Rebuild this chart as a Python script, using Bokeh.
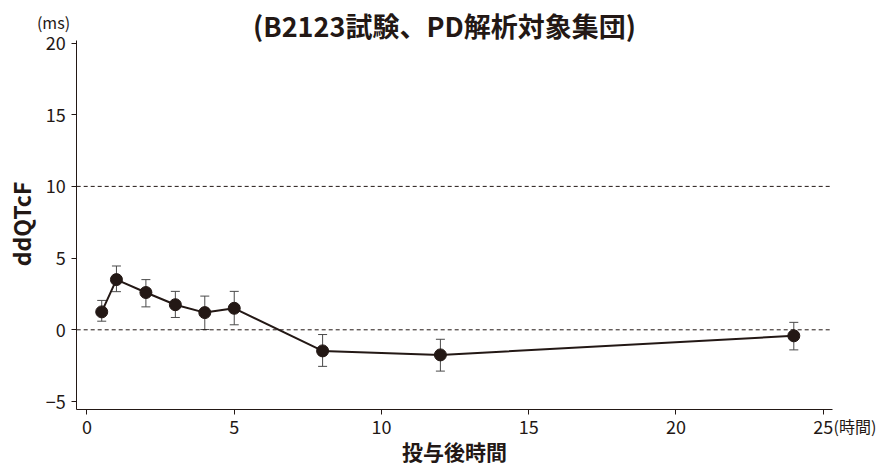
from bokeh.plotting import figure
from bokeh.models import (ColumnDataSource, Range1d, FixedTicker, Label,
                          LinearAxis, Whisker, TeeHead)
from bokeh.embed import file_html
from bokeh.resources import INLINE
import math

# ---- data ----
hours = [0.5, 1, 2, 3, 4, 5, 8, 12, 24]
ddqtcf = [1.25, 3.5, 2.6, 1.75, 1.2, 1.5, -1.47, -1.75, -0.42]
err_upper = [2.05, 4.45, 3.5, 2.68, 2.35, 2.68, -0.33, -0.66, 0.52]
err_lower = [0.6, 2.66, 1.6, 0.86, 0.02, 0.35, -2.55, -2.88, -1.4]
x_ticks = [0, 5, 10, 15, 20, 25]
y_ticks = [-5, 0, 5, 10, 15, 20]
ref_lines = [0, 10]
title_text = "(B2123試験、PD解析対象集団)"
x_label = "投与後時間"
x_unit = "(時間)"
y_label = "ddQTcF"
y_unit = "(ms)"

# axis extents (data units) and the view of the whole canvas
x_axis_bounds = (-0.35, 25.31)
y_axis_bounds = (-5.58, 20.17)
x_view = (-2.937, 26.944)
y_view = (-9.672, 22.964)

INK = "#231815"
FONT = "Noto Sans CJK JP"

src = ColumnDataSource(dict(x=hours, y=ddqtcf, upper=err_upper, lower=err_lower))
ref_src = ColumnDataSource(dict(
    x0=[x_axis_bounds[0]] * len(ref_lines),
    x1=[x_axis_bounds[1]] * len(ref_lines),
    y=ref_lines))

W, H = 880, 468
p = figure(width=W, height=H, output_backend="svg", toolbar_location=None,
           x_range=Range1d(*x_view), y_range=Range1d(*y_view),
           x_axis_location=None, y_axis_location=None,
           min_border=0)
p.outline_line_color = None
p.grid.visible = False
p.background_fill_color = "white"
p.border_fill_color = "white"

xaxis = LinearAxis(fixed_location=y_axis_bounds[0], bounds=x_axis_bounds,
                   ticker=FixedTicker(ticks=x_ticks))
yaxis = LinearAxis(fixed_location=x_axis_bounds[0], bounds=y_axis_bounds,
                   ticker=FixedTicker(ticks=y_ticks))
for ax in (xaxis, yaxis):
    ax.axis_line_color = INK
    ax.axis_line_width = 1
    ax.major_tick_line_color = INK
    ax.major_tick_out = 5
    ax.major_tick_in = 0
    ax.minor_tick_line_color = None
    ax.major_label_text_font = FONT
    ax.major_label_text_font_size = "18px"
    ax.major_label_text_color = INK
xaxis.major_label_standoff = 5
yaxis.major_label_standoff = 6
p.add_layout(xaxis, "below")
p.add_layout(yaxis, "left")

p.segment("x0", "y", "x1", "y", source=ref_src, line_color=INK,
          line_width=1, line_dash="4 3")

w = Whisker(source=src, base="x", upper="upper", lower="lower",
            line_color="#4a4a4a", line_width=1,
            upper_head=TeeHead(size=9, line_color="#4a4a4a", line_width=1),
            lower_head=TeeHead(size=9, line_color="#4a4a4a", line_width=1))
p.add_layout(w)

p.line("x", "y", source=src, line_color=INK, line_width=2)
p.scatter("x", "y", source=src, size=12, fill_color=INK, line_color=INK)


def screen_label(x, y, text, size, bold=False, align="center",
                 baseline="middle", angle=0.0):
    # x from left edge, y from bottom edge of the canvas (frame == canvas)
    p.add_layout(Label(x=x, y=y, x_units="screen", y_units="screen",
                       text=text, text_font=FONT, text_font_size=size,
                       text_font_style="bold" if bold else "normal",
                       text_color=INK, text_align=align,
                       text_baseline=baseline, angle=angle))


screen_label(444, H - 25, title_text, "27px", bold=True, baseline="alphabetic")
screen_label(53, H - 21, y_unit, "16px")
screen_label(833, H - 425, x_unit, "16px", align="left")
screen_label(454, H - 450, x_label, "21px", bold=True)
screen_label(20, H - 223.5, y_label, "23px", bold=True, angle=math.pi / 2)

open("out.html", "w").write(file_html(p, INLINE))
